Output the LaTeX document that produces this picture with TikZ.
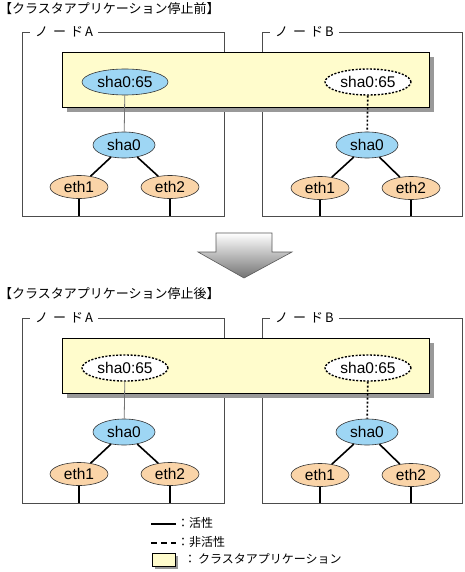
\documentclass[tikz,border=0pt]{standalone}
\usepackage{fontspec}
\setmainfont{Liberation Sans}
\newfontfamily\jp{Noto Sans CJK JP}
\usepackage{tikz}
\usetikzlibrary{shapes.geometric}
\usepackage{xcolor}

\definecolor{appyellow}{RGB}{255,252,204}
\definecolor{ifblue}{RGB}{158,214,244}
\definecolor{ethorange}{RGB}{250,212,168}

\tikzset{
  nodebox/.style={draw=black!70, line width=0.8pt},
  nodelabel/.style={fill=white, inner ysep=2pt, inner xsep=5pt, anchor=west, font=\jp\fontsize{13}{13}\selectfont},
  titletext/.style={anchor=west, inner sep=0pt, font=\jp\fontsize{13}{13}\selectfont},
  appbox/.style={draw=black, line width=0.6pt, fill=appyellow},
  appshadow/.style={fill=black!40},
  vipon/.style={ellipse, draw=black!80, line width=0.6pt, fill=ifblue, minimum width=86pt, minimum height=26pt, inner sep=0pt, font=\fontsize{15.5}{15.5}\selectfont},
  vipoff/.style={ellipse, draw=black, line width=1.4pt, dash pattern=on 2pt off 1.6pt, fill=white, minimum width=86pt, minimum height=26pt, inner sep=0pt, font=\fontsize{15.5}{15.5}\selectfont},
  shabox/.style={ellipse, draw=black!80, line width=0.6pt, fill=ifblue, minimum width=62pt, minimum height=26pt, inner sep=0pt, font=\fontsize{15.5}{15.5}\selectfont},
  ethbox/.style={ellipse, draw=black!80, line width=0.6pt, fill=ethorange, minimum width=58pt, minimum height=23pt, inner sep=0pt, font=\fontsize{15.5}{15.5}\selectfont},
  link/.style={line width=1.6pt},
  viplink/.style={draw=black!55, line width=0.8pt},
  viplinkoff/.style={line width=1.6pt, dash pattern=on 2pt off 2pt},
  legendtext/.style={anchor=west, inner sep=0pt, font=\jp\fontsize{12}{12}\selectfont}
}

\begin{document}
\begin{tikzpicture}[x=1pt, y=-1pt]
  \useasboundingbox (0,0) rectangle (465,572);

  % ---------- before ----------
  \node[titletext] (title1) at (-1,9) {【クラスタアプリケーション停止前】};

  % Node boxes
  \draw[nodebox] (22,32) rectangle (224,216);
  \draw[nodebox] (262,32) rectangle (462,216);
  \coordinate (bot1) at (0,216);
  \node[nodelabel] (labA1) at (30,32) {ノ\hspace{5pt}ー\hspace{4pt}ド\hspace{2pt}A};
  \node[nodelabel] (labB1) at (270,32) {ノ\hspace{5pt}ー\hspace{4pt}ド\hspace{2pt}B};

  % Cluster application
  \fill[appshadow] (67,57) rectangle (434,112);
  \draw[appbox] (62,52) rectangle (429,107);

  % Interfaces
  \node[vipon]  (vipA1) at (125,82) {sha0:65};
  \node[vipoff] (vipB1) at (368,82) {sha0:65};
  \node[shabox] (shaA1) at (124,145) {sha0};
  \node[shabox] (shaB1) at (367,145) {sha0};
  \node[ethbox] (eth1A1) at (79,187) {eth1};
  \node[ethbox] (eth2A1) at (170,187) {eth2};
  \node[ethbox] (eth1B1) at (320,188) {eth1};
  \node[ethbox] (eth2B1) at (411,188) {eth2};

  % Links
  \draw[viplink] (vipA1) -- (shaA1);
  \draw[viplinkoff] (vipB1) -- (shaB1);
  \draw[link] (shaA1) -- (eth1A1);
  \draw[link] (shaA1) -- (eth2A1);
  \draw[link] (shaB1) -- (eth1B1);
  \draw[link] (shaB1) -- (eth2B1);
  \draw[link] (eth1A1.south) -- (eth1A1.south |- bot1);
  \draw[link] (eth2A1.south) -- (eth2A1.south |- bot1);
  \draw[link] (eth1B1.south) -- (eth1B1.south |- bot1);
  \draw[link] (eth2B1.south) -- (eth2B1.south |- bot1);

  % Arrow
  \shade[top color=white, bottom color=black!55, draw=black!65, line width=0.6pt]
    (216,233) -- (272,233) -- (272,252) -- (292,252) -- (244,278) -- (198,252) -- (216,252) -- cycle;

  % ---------- after ----------
  \begin{scope}[yshift=-286pt]
    \node[titletext] (title2) at (-1,8) {【クラスタアプリケーション停止後】};

    % Node boxes
    \draw[nodebox] (22,32) rectangle (224,217);
    \draw[nodebox] (262,32) rectangle (462,217);
    \coordinate (bot2) at (0,217);
    \node[nodelabel] (labA2) at (30,32) {ノ\hspace{5pt}ー\hspace{4pt}ド\hspace{2pt}A};
    \node[nodelabel] (labB2) at (270,32) {ノ\hspace{5pt}ー\hspace{4pt}ド\hspace{2pt}B};

    % Cluster application
    \fill[appshadow] (67,57) rectangle (434,112);
    \draw[appbox] (62,52) rectangle (429,107);

    % Interfaces
    \node[vipoff] (vipA2) at (125,82) {sha0:65};
    \node[vipoff] (vipB2) at (368,82) {sha0:65};
    \node[shabox] (shaA2) at (124,146) {sha0};
    \node[shabox] (shaB2) at (367,146) {sha0};
    \node[ethbox] (eth1A2) at (79,188) {eth1};
    \node[ethbox] (eth2A2) at (170,188) {eth2};
    \node[ethbox] (eth1B2) at (320,189) {eth1};
    \node[ethbox] (eth2B2) at (411,189) {eth2};

    % Links
    \draw[viplink] (vipA2) -- (shaA2);
    \draw[viplinkoff] (vipB2) -- (shaB2);
    \draw[link] (shaA2) -- (eth1A2);
    \draw[link] (shaA2) -- (eth2A2);
    \draw[link] (shaB2) -- (eth1B2);
    \draw[link] (shaB2) -- (eth2B2);
    \draw[link] (eth1A2.south) -- (eth1A2.south |- bot2);
    \draw[link] (eth2A2.south) -- (eth2A2.south |- bot2);
    \draw[link] (eth1B2.south) -- (eth1B2.south |- bot2);
    \draw[link] (eth2B2.south) -- (eth2B2.south |- bot2);
  \end{scope}

  % ---------- legend ----------
  \draw[link] (151,524) -- (176,524);
  \draw[link, dash pattern=on 6pt off 4pt] (151,543) -- (176,543);
  \fill[appshadow] (155,556) rectangle (178,569);
  \draw[appbox] (152,553) rectangle (175,566);
  \node[legendtext] (legon) at (177,523) {：活性};
  \node[legendtext] (legoff) at (177,542) {：非活性};
  \node[legendtext] (legapp) at (184,559) {：\hspace{2pt}クラスタアプリケーション};
\end{tikzpicture}
\end{document}
